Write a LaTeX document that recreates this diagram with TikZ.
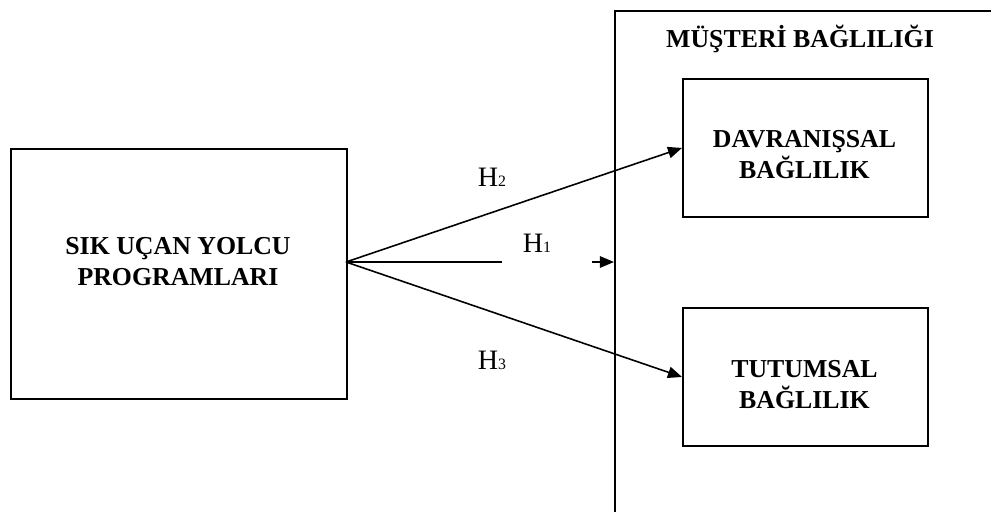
\documentclass[tikz,border=0pt]{standalone}
\usepackage{fontspec}
\setmainfont{Liberation Serif}
\usetikzlibrary{arrows.meta}

\begin{document}
\begin{tikzpicture}[x=0.02cm,y=-0.02cm,
  kutu/.style={draw,line width=1.1pt,inner sep=0pt},
  baslik/.style={font=\bfseries\fontsize{14.7}{17.6}\selectfont,align=center},
  hip/.style={font=\fontsize{16}{19}\selectfont,inner sep=0pt},
  ok/.style={line width=0.9pt,-{Triangle[length=8pt,width=6.5pt]}}]
\path[use as bounding box] (0,0) rectangle (991,511);
% outer frame, runs off the page
\begin{scope}
  \clip (0,0) rectangle (991,511);
  \node[kutu,minimum width=8.2cm,minimum height=10.6cm,anchor=north west] (musteri) at (614,10) {};
\end{scope}
\node[baslik] (musteritext) at (800,39) {MÜŞTERİ BAĞLILIĞI};
% left box
\node[kutu,minimum width=6.72cm,minimum height=5cm,anchor=north west] (spp) at (10,148) {};
\node[baslik] (spptext) at (178,262) {SIK UÇAN YOLCU\\PROGRAMLARI};
% right boxes
\node[kutu,minimum width=4.9cm,minimum height=2.76cm,anchor=north west] (davr) at (682,78) {};
\node[baslik] (davrtext) at (804.5,155) {DAVRANIŞSAL\\BAĞLILIK};
\node[kutu,minimum width=4.9cm,minimum height=2.76cm,anchor=north west] (tutum) at (682,307) {};
\node[baslik] (tutumtext) at (804.5,385) {TUTUMSAL\\BAĞLILIK};
% connectors
\coordinate (cikis) at (346,262);
\coordinate (h1son) at (502,262);
\coordinate (h1bas) at (592,262);
\draw[ok] (cikis) -- (davr.west);
\draw[ok] (cikis) -- (tutum.west);
\draw[line width=0.9pt] (cikis) -- (h1son);
\draw[ok] (h1bas) -- (musteri.west |- cikis);
% labels
\node[hip] (h2) at (492,177) {H{\fontsize{9}{10}\selectfont 2}};
\node[hip] (h1) at (537,243) {H{\fontsize{9}{10}\selectfont 1}};
\node[hip] (h3) at (492,360) {H{\fontsize{9}{10}\selectfont 3}};
\end{tikzpicture}
\end{document}
